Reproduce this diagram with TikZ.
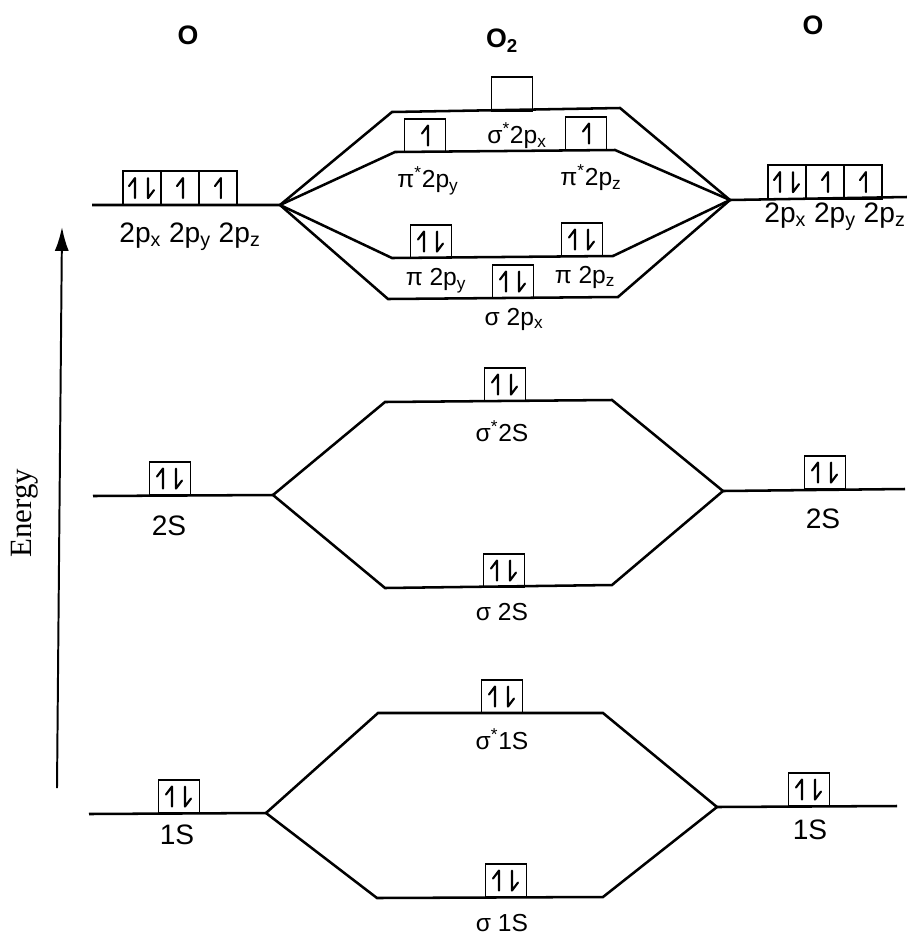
\documentclass[tikz,border=0pt]{standalone}
\usepackage{fontspec}
\setmainfont{Liberation Sans}
\newfontfamily\energyfont{Liberation Serif}
\usetikzlibrary{positioning,arrows.meta}

\tikzset{
  level/.style={line width=1.8pt},
  orb/.style={draw, line width=1.2pt, minimum width=29pt, minimum height=23.4pt,
    inner sep=0pt, outer sep=0pt, anchor=south},
  aorb/.style={orb, minimum width=27pt, minimum height=24pt},
  harp/.style={line width=1.5pt, line cap=round, line join=round},
  lab/.style={font=\fontsize{17.5}{20}\selectfont, inner sep=0pt},
  alab/.style={font=\fontsize{20}{24}\selectfont, inner sep=0pt},
  atom/.style={font=\fontsize{19}{23}\selectfont\bfseries, inner sep=0pt}
}
% half arrows inside an orbital box
\newcommand{\spinup}[2]{\draw[harp] (#1.center) ++(#2,10) -- ++(0,-20) -- ++(-6,8);}
\newcommand{\spindn}[2]{\draw[harp] (#1.center) ++(#2,-10) -- ++(0,20) -- ++(6,-8);}
\newcommand{\twospin}[1]{\spinup{#1}{-7}\spindn{#1}{6}}
\newcommand{\onespin}[1]{\spinup{#1}{3}}

\begin{document}
\begin{tikzpicture}[x=0.025cm, y=-0.025cm]
  \useasboundingbox (0,0) rectangle (907,936);

  % atomic levels: free ends and branch points
  \coordinate (a2pL) at (92,205);  \coordinate (v2pL) at (280,205);
  \coordinate (v2pR) at (730,200); \coordinate (a2pR) at (907,197);
  \coordinate (a2sL) at (93,496);  \coordinate (v2sL) at (273,495);
  \coordinate (v2sR) at (723,491); \coordinate (a2sR) at (905,489);
  \coordinate (a1sL) at (89,814);  \coordinate (v1sL) at (266,813);
  \coordinate (v1sR) at (717,807); \coordinate (a1sR) at (897,806);

  % molecular levels: left and right corners
  \coordinate (ssxL) at (392,112); \coordinate (ssxR) at (620,108);
  \coordinate (psL) at (395,152);  \coordinate (psR) at (615,150);
  \coordinate (pL) at (392,258);   \coordinate (pR) at (613,256);
  \coordinate (sxL) at (388,299);  \coordinate (sxR) at (618,297);
  \coordinate (ss2L) at (385,402); \coordinate (ss2R) at (612,400);
  \coordinate (s2L) at (385,588);  \coordinate (s2R) at (612,585);
  \coordinate (ss1L) at (378,713); \coordinate (ss1R) at (603,713);
  \coordinate (s1L) at (377,898);  \coordinate (s1R) at (603,897);

  % level lines
  \draw[level] (a2pL) -- (v2pL) (v2pR) -- (a2pR);
  \draw[level] (a2sL) -- (v2sL) (v2sR) -- (a2sR);
  \draw[level] (a1sL) -- (v1sL) (v1sR) -- (a1sR);
  \foreach \m in {ssx, ps, p, sx}
    \draw[level] (v2pL) -- (\m L) -- (\m R) -- (v2pR);
  \foreach \m in {ss2, s2}
    \draw[level] (v2sL) -- (\m L) -- (\m R) -- (v2sR);
  \foreach \m in {ss1, s1}
    \draw[level] (v1sL) -- (\m L) -- (\m R) -- (v1sR);

  % atomic 2p boxes
  \node[aorb] (pxL) at (142,205) {};
  \node[aorb, right=0pt of pxL] (pyL) {};
  \node[aorb, right=0pt of pyL] (pzL) {};
  \node[aorb] (pxR) at (787,199) {};
  \node[aorb, right=0pt of pxR] (pyR) {};
  \node[aorb, right=0pt of pyR] (pzR) {};
  \twospin{pxL} \onespin{pyL} \onespin{pzL}
  \twospin{pxR} \onespin{pyR} \onespin{pzR}

  % molecular 2p boxes
  \node[orb, minimum height=24pt] (bssx) at (512,111) {};
  \node[orb] (bpsy) at (425,152) {};
  \node[orb] (bpsz) at (586,150) {};
  \node[orb] (bpy) at (431,258) {};
  \node[orb] (bpz) at (582,256) {};
  \node[orb] (bsx) at (513,298) {};
  \onespin{bpsy} \onespin{bpsz}
  \twospin{bpy} \twospin{bpz} \twospin{bsx}

  % s boxes
  \node[orb] (b2sL) at (170,495) {};
  \node[orb] (b2sR) at (825,489) {};
  \node[orb] (bss2) at (505,401) {};
  \node[orb] (bs2) at (504,587) {};
  \node[orb] (b1sL) at (179,813) {};
  \node[orb] (b1sR) at (809,806) {};
  \node[orb] (bss1) at (502,713) {};
  \node[orb] (bs1) at (506,897) {};
  \foreach \b in {b2sL, b2sR, bss2, bs2, b1sL, b1sR, bss1, bs1}
    {\twospin{\b}}

  % headings
  \node[atom] (oL) at (188,35) {O};
  \node[atom] (oM) at (502,41) {O\textsubscript{2}};
  \node[atom] (oR) at (813,25) {O};

  % labels
  \node[alab] (l2pL) at (190,237) {2p\textsubscript{x} 2p\textsubscript{y} 2p\textsubscript{z}};
  \node[alab] (l2pR) at (835,217) {2p\textsubscript{x} 2p\textsubscript{y} 2p\textsubscript{z}};
  \node[lab] (lssx) at (517,136) {σ\textsuperscript{*}2p\textsubscript{x}};
  \node[lab] (lpsy) at (428,181) {π\textsuperscript{*}2p\textsubscript{y}};
  \node[lab] (lpsz) at (591,178) {π\textsuperscript{*}2p\textsubscript{z}};
  \node[lab] (lpy) at (436,281) {π 2p\textsubscript{y}};
  \node[lab] (lpz) at (585,277) {π 2p\textsubscript{z}};
  \node[lab] (lsx) at (514,319) {σ 2p\textsubscript{x}};
  \node[lab] (lss2) at (502,431) {σ\textsuperscript{*}2S};
  \node[lab] (ls2) at (502,612) {σ 2S};
  \node[lab] (lss1) at (502,739) {σ\textsuperscript{*}1S};
  \node[lab] (ls1) at (502,923) {σ 1S};
  \node[alab] (l2sL) at (169,526) {2S};
  \node[alab] (l2sR) at (823,519) {2S};
  \node[alab] (l1sL) at (177,835) {1S};
  \node[alab] (l1sR) at (810,830) {1S};

  % energy axis
  \coordinate (ebot) at (57,788);
  \coordinate (etop) at (62,227);
  \draw[line width=1.4pt, -{Latex[length=17pt, width=10pt]}] (ebot) -- (etop);
  \node[rotate=90, inner sep=0pt, font=\energyfont\fontsize{22}{26}\selectfont] (energy) at (25,513) {Energy};
\end{tikzpicture}
\end{document}
